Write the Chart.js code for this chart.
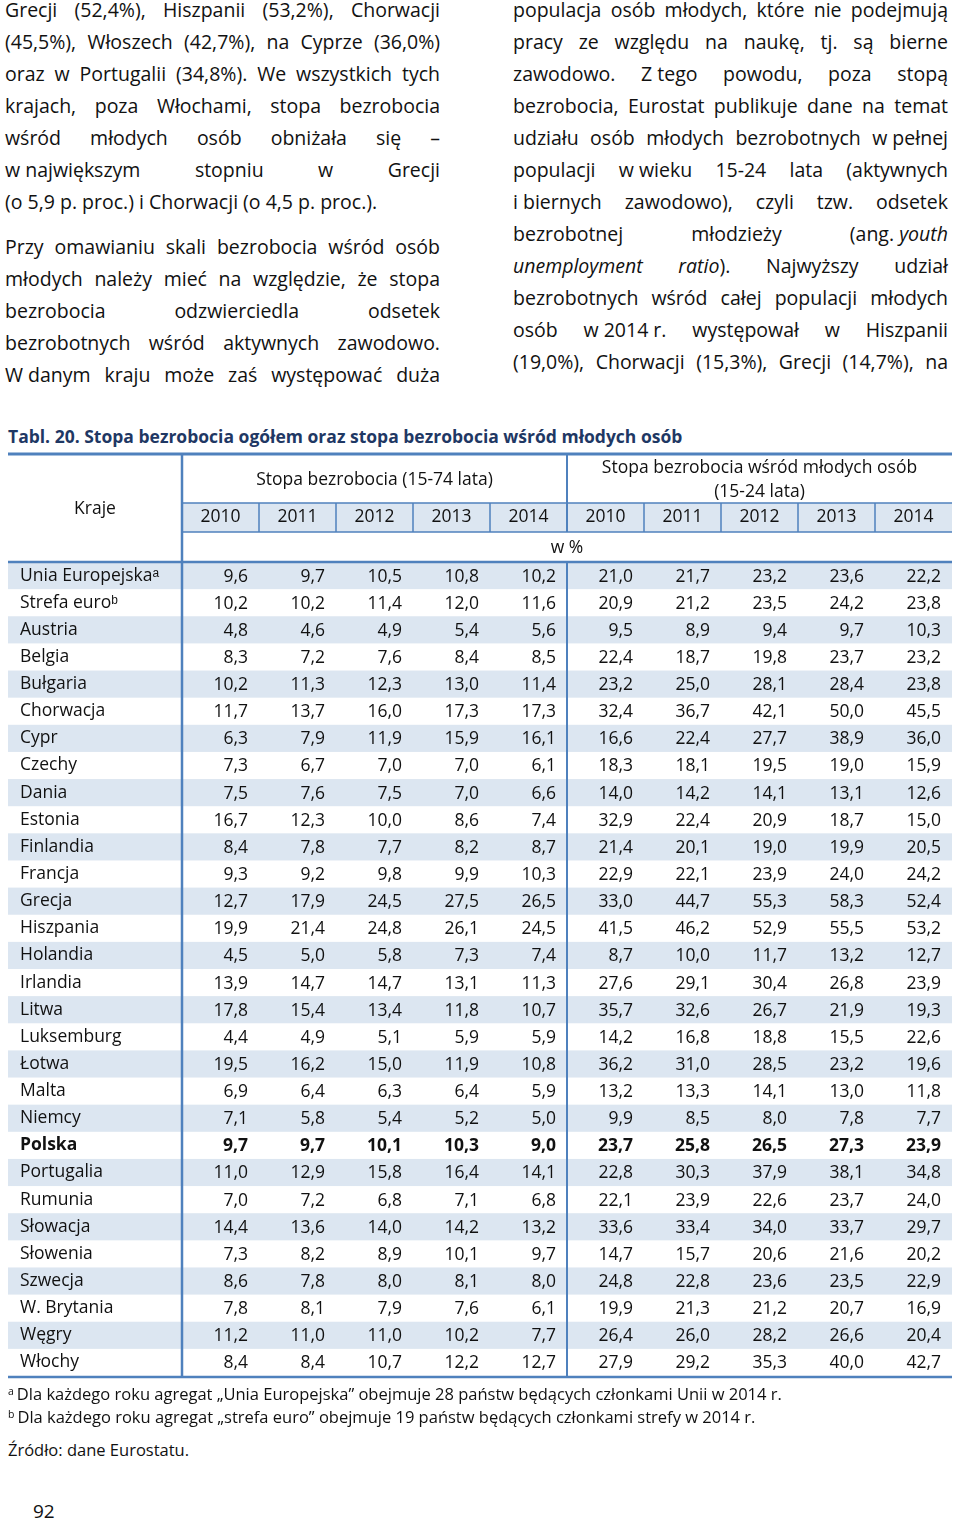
<!DOCTYPE html>
<html lang="pl">
<head>
<meta charset="utf-8">
<script src="https://cdn.jsdelivr.net/npm/chart.js@4.4.1/dist/chart.umd.min.js"></script>
<style>
  html, body { margin: 0; padding: 0; background: #fff; }
  body { width: 960px; height: 1522px; position: relative; overflow: hidden;
         font-family: "Open Sans", sans-serif; color: #111; }
  .col { position: absolute; top: -6px; width: 435px; font-size: 19.5px; }
  .col div { height: 32px; line-height: 32px; white-space: nowrap;
             text-align: justify; text-align-last: justify; }
  .col div.last { text-align-last: left; }
  .col div.gap { margin-top: 13px; }
  .nb { display: inline-block; }
  #left { left: 5px; }
  #right { left: 513px; }
  #title { position: absolute; left: 8px; top: 423px; font-size: 17.5px; font-weight: bold;
           color: #1f3864; line-height: 26px; white-space: nowrap; }
  #tabela { position: absolute; left: 0; top: 440px; }
  .note { position: absolute; left: 8px; font-size: 16.5px; line-height: 23px; white-space: nowrap; }
  .note sup { font-size: 10.5px; vertical-align: 5px; margin-right: 3px; }
  #page { position: absolute; left: 33px; top: 1498px; font-size: 19px; }
</style>
</head>
<body>

<div class="col" id="left">
  <div>Grecji (52,4%), Hiszpanii (53,2%), Chorwacji</div>
  <div>(45,5%), Włoszech (42,7%), na Cyprze (36,0%)</div>
  <div>oraz w Portugalii (34,8%). We wszystkich tych</div>
  <div>krajach, poza Włochami, stopa bezrobocia</div>
  <div>wśród młodych osób obniżała się –</div>
  <div><span class="nb">w największym</span> stopniu w Grecji</div>
  <div class="last">(o 5,9 p. proc.) i Chorwacji (o 4,5 p. proc.).</div>
  <div class="gap">Przy omawianiu skali bezrobocia wśród osób</div>
  <div>młodych należy mieć na względzie, że stopa</div>
  <div>bezrobocia odzwierciedla odsetek</div>
  <div>bezrobotnych wśród aktywnych zawodowo.</div>
  <div><span class="nb">W danym</span> kraju może zaś występować duża</div>
</div>

<div class="col" id="right">
  <div>populacja osób młodych, które nie podejmują</div>
  <div>pracy ze względu na naukę, tj. są bierne</div>
  <div>zawodowo. <span class="nb">Z tego</span> powodu, poza stopą</div>
  <div>bezrobocia, Eurostat publikuje dane na temat</div>
  <div>udziału osób młodych bezrobotnych <span class="nb">w pełnej</span></div>
  <div>populacji <span class="nb">w wieku</span> 15-24 lata (aktywnych</div>
  <div><span class="nb">i biernych</span> zawodowo), czyli tzw. odsetek</div>
  <div>bezrobotnej młodzieży <span class="nb">(ang. <i>youth</i></span></div>
  <div><i>unemployment</i> <i>ratio</i>). Najwyższy udział</div>
  <div>bezrobotnych wśród całej populacji młodych</div>
  <div>osób <span class="nb">w 2014 r.</span> występował w Hiszpanii</div>
  <div>(19,0%), Chorwacji (15,3%), Grecji (14,7%), na</div>
</div>

<div id="title">Tabl. 20. Stopa bezrobocia ogółem oraz stopa bezrobocia wśród młodych osób</div>

<canvas id="tabela" width="960" height="948"></canvas>

<div class="note" style="top:1380px"><sup>a</sup>Dla każdego roku agregat „Unia Europejska” obejmuje 28 państw będących członkami Unii w 2014 r.</div>
<div class="note" style="top:1403px"><sup>b</sup>Dla każdego roku agregat „strefa euro” obejmuje 19 państw będących członkami strefy w 2014 r.</div>
<div class="note" style="top:1438px">Źródło: dane Eurostatu.</div>
<div id="page">92</div>

<script>
// dopasowanie wierszy tekstu do szerokości kolumny
document.querySelectorAll('.col div').forEach(function (el) {
  var over = el.scrollWidth - el.clientWidth;
  if (over > 0) el.style.letterSpacing = -(over / el.textContent.length + 0.03) + 'px';
});

var countries = ['Unia Europejskaᵃ', 'Strefa euroᵇ', 'Austria', 'Belgia', 'Bułgaria', 'Chorwacja',
  'Cypr', 'Czechy', 'Dania', 'Estonia', 'Finlandia', 'Francja', 'Grecja', 'Hiszpania', 'Holandia',
  'Irlandia', 'Litwa', 'Luksemburg', 'Łotwa', 'Malta', 'Niemcy', 'Polska', 'Portugalia', 'Rumunia',
  'Słowacja', 'Słowenia', 'Szwecja', 'W. Brytania', 'Węgry', 'Włochy'];
var highlight = 'Polska';
var years = ['2010', '2011', '2012', '2013', '2014'];
var groupTotal = ['Stopa bezrobocia (15-74 lata)'];
var groupYouth = ['Stopa bezrobocia wśród młodych osób', '(15-24 lata)'];
var unit = 'w %';
var firstHeader = 'Kraje';

// stopa bezrobocia 15-74 lata, 2010-2014
var ogolem = [
  [9.6, 9.7, 10.5, 10.8, 10.2],
  [10.2, 10.2, 11.4, 12.0, 11.6],
  [4.8, 4.6, 4.9, 5.4, 5.6],
  [8.3, 7.2, 7.6, 8.4, 8.5],
  [10.2, 11.3, 12.3, 13.0, 11.4],
  [11.7, 13.7, 16.0, 17.3, 17.3],
  [6.3, 7.9, 11.9, 15.9, 16.1],
  [7.3, 6.7, 7.0, 7.0, 6.1],
  [7.5, 7.6, 7.5, 7.0, 6.6],
  [16.7, 12.3, 10.0, 8.6, 7.4],
  [8.4, 7.8, 7.7, 8.2, 8.7],
  [9.3, 9.2, 9.8, 9.9, 10.3],
  [12.7, 17.9, 24.5, 27.5, 26.5],
  [19.9, 21.4, 24.8, 26.1, 24.5],
  [4.5, 5.0, 5.8, 7.3, 7.4],
  [13.9, 14.7, 14.7, 13.1, 11.3],
  [17.8, 15.4, 13.4, 11.8, 10.7],
  [4.4, 4.9, 5.1, 5.9, 5.9],
  [19.5, 16.2, 15.0, 11.9, 10.8],
  [6.9, 6.4, 6.3, 6.4, 5.9],
  [7.1, 5.8, 5.4, 5.2, 5.0],
  [9.7, 9.7, 10.1, 10.3, 9.0],
  [11.0, 12.9, 15.8, 16.4, 14.1],
  [7.0, 7.2, 6.8, 7.1, 6.8],
  [14.4, 13.6, 14.0, 14.2, 13.2],
  [7.3, 8.2, 8.9, 10.1, 9.7],
  [8.6, 7.8, 8.0, 8.1, 8.0],
  [7.8, 8.1, 7.9, 7.6, 6.1],
  [11.2, 11.0, 11.0, 10.2, 7.7],
  [8.4, 8.4, 10.7, 12.2, 12.7]
];

// stopa bezrobocia 15-24 lata, 2010-2014
var mlodzi = [
  [21.0, 21.7, 23.2, 23.6, 22.2],
  [20.9, 21.2, 23.5, 24.2, 23.8],
  [9.5, 8.9, 9.4, 9.7, 10.3],
  [22.4, 18.7, 19.8, 23.7, 23.2],
  [23.2, 25.0, 28.1, 28.4, 23.8],
  [32.4, 36.7, 42.1, 50.0, 45.5],
  [16.6, 22.4, 27.7, 38.9, 36.0],
  [18.3, 18.1, 19.5, 19.0, 15.9],
  [14.0, 14.2, 14.1, 13.1, 12.6],
  [32.9, 22.4, 20.9, 18.7, 15.0],
  [21.4, 20.1, 19.0, 19.9, 20.5],
  [22.9, 22.1, 23.9, 24.0, 24.2],
  [33.0, 44.7, 55.3, 58.3, 52.4],
  [41.5, 46.2, 52.9, 55.5, 53.2],
  [8.7, 10.0, 11.7, 13.2, 12.7],
  [27.6, 29.1, 30.4, 26.8, 23.9],
  [35.7, 32.6, 26.7, 21.9, 19.3],
  [14.2, 16.8, 18.8, 15.5, 22.6],
  [36.2, 31.0, 28.5, 23.2, 19.6],
  [13.2, 13.3, 14.1, 13.0, 11.8],
  [9.9, 8.5, 8.0, 7.8, 7.7],
  [23.7, 25.8, 26.5, 27.3, 23.9],
  [22.8, 30.3, 37.9, 38.1, 34.8],
  [22.1, 23.9, 22.6, 23.7, 24.0],
  [33.6, 33.4, 34.0, 33.7, 29.7],
  [14.7, 15.7, 20.6, 21.6, 20.2],
  [24.8, 22.8, 23.6, 23.5, 22.9],
  [19.9, 21.3, 21.2, 20.7, 16.9],
  [26.4, 26.0, 28.2, 26.6, 20.4],
  [27.9, 29.2, 35.3, 40.0, 42.7]
];

var FONT = '"Open Sans", sans-serif';
var FS = 17.5;
var BLUE = '#4f81bd';
var FILL = '#dce6f1';
var TXT = '#111';
var tableLeft = 8;
var headRows = [50, 29, 30];

var colKeys = years.map(function (y) { return 'ogółem ' + y; })
  .concat(years.map(function (y) { return 'młodzi ' + y; }));

var datasets = colKeys.map(function (key, c) {
  var src = c < years.length ? ogolem : mlodzi;
  return {
    label: key,
    data: countries.map(function (k, r) {
      return { x: key, y: k, v: src[r][c % years.length] };
    }),
    pointRadius: 0,
    pointHoverRadius: 0
  };
});

function fmt(v) { return v.toFixed(1).replace('.', ','); }

function hline(ctx, x1, x2, y, w) {
  ctx.lineWidth = w;
  ctx.beginPath(); ctx.moveTo(x1, y); ctx.lineTo(x2, y); ctx.stroke();
}
function vline(ctx, x, y1, y2, w) {
  ctx.lineWidth = w;
  ctx.beginPath(); ctx.moveTo(x, y1); ctx.lineTo(x, y2); ctx.stroke();
}

var tablePlugin = {
  id: 'tablePlugin',
  beforeDraw: function (chart) {
    var ctx = chart.ctx, xs = chart.scales.x, ys = chart.scales.y, a = chart.chartArea;
    var rowH = ys.height / countries.length;
    var y0 = xs.top + headRows[0], y1 = y0 + headRows[1];
    ctx.save();
    ctx.fillStyle = FILL;
    ctx.fillRect(a.left, y0, a.right - a.left, y1 - y0);
    countries.forEach(function (k, i) {
      if (i % 2) return;
      var yc = ys.getPixelForValue(i);
      ctx.fillRect(tableLeft, yc - rowH / 2, a.right - tableLeft, rowH);
    });
    ctx.restore();
  },
  afterDatasetsDraw: function (chart) {
    var ctx = chart.ctx, xs = chart.scales.x, ys = chart.scales.y, a = chart.chartArea;
    var colW = xs.width / colKeys.length;
    var top = xs.top, y0 = top + headRows[0], y1 = y0 + headRows[1];
    var split = xs.getPixelForValue(years.length - 1) + colW / 2;
    ctx.save();
    // linie tabeli
    ctx.strokeStyle = BLUE;
    hline(ctx, tableLeft, a.right, top + 1, 3);
    hline(ctx, a.left, a.right, y0, 1.5);
    hline(ctx, a.left, a.right, y1, 1.5);
    hline(ctx, tableLeft, a.right, a.top, 2.5);
    hline(ctx, tableLeft, a.right, a.bottom + 1, 2.5);
    vline(ctx, a.left, top, a.bottom + 1, 2.5);
    vline(ctx, split, top, y1, 2);
    vline(ctx, split, a.top, a.bottom + 1, 2);
    colKeys.forEach(function (k, c) {
      if (c === 0 || c === years.length) return;
      var x = xs.getPixelForValue(c) - colW / 2;
      vline(ctx, x, y0, y1, 1.5);
    });

    // nagłówki
    ctx.fillStyle = TXT;
    ctx.textAlign = 'center';
    ctx.textBaseline = 'middle';
    ctx.font = FS + 'px ' + FONT;
    ctx.fillText(firstHeader, (tableLeft + a.left) / 2, top + 56);
    var cTot = (xs.getPixelForValue(0) + xs.getPixelForValue(years.length - 1)) / 2;
    var cYou = (xs.getPixelForValue(years.length) + xs.getPixelForValue(colKeys.length - 1)) / 2;
    ctx.fillText(groupTotal[0], cTot, top + 27);
    ctx.fillText(groupYouth[0], cYou, top + 15);
    ctx.fillText(groupYouth[1], cYou, top + 39);
    ctx.fillText(unit, (a.left + a.right) / 2, y1 + 16);

    // wartości
    ctx.textAlign = 'right';
    chart.data.datasets.forEach(function (ds, i) {
      var meta = chart.getDatasetMeta(i);
      meta.data.forEach(function (el, j) {
        var bold = countries[j] === highlight;
        ctx.font = (bold ? 'bold ' : '') + FS + 'px ' + FONT;
        ctx.fillText(fmt(ds.data[j].v), el.x + colW / 2 - 11, el.y + 1);
      });
    });
    ctx.restore();
  }
};

new Chart(document.getElementById('tabela'), {
  type: 'scatter',
  data: { datasets: datasets },
  options: {
    responsive: false,
    animation: false,
    events: [],
    layout: { padding: { left: 20, right: 8, top: 13, bottom: 12 } },
    plugins: { legend: { display: false }, tooltip: { enabled: false } },
    scales: {
      x: {
        type: 'category',
        labels: colKeys,
        position: 'top',
        offset: true,
        grid: { display: false, drawTicks: true, tickLength: 34 },
        border: { display: false },
        afterFit: function (s) { s.height = 109; },
        ticks: {
          autoSkip: false, maxRotation: 0, padding: 0, color: TXT,
          font: { family: FONT, size: FS },
          callback: function (v, i) { return years[i % years.length]; }
        }
      },
      y: {
        type: 'category',
        labels: countries,
        offset: true,
        grid: { display: false, drawTicks: false },
        border: { display: false },
        afterFit: function (s) { s.width = 162; },
        ticks: {
          autoSkip: false, crossAlign: 'far', padding: 0, color: TXT,
          font: function (c) {
            return { family: FONT, size: FS, weight: countries[c.index] === highlight ? 'bold' : 'normal' };
          }
        }
      }
    }
  },
  plugins: [tablePlugin]
});
</script>
</body>
</html>
